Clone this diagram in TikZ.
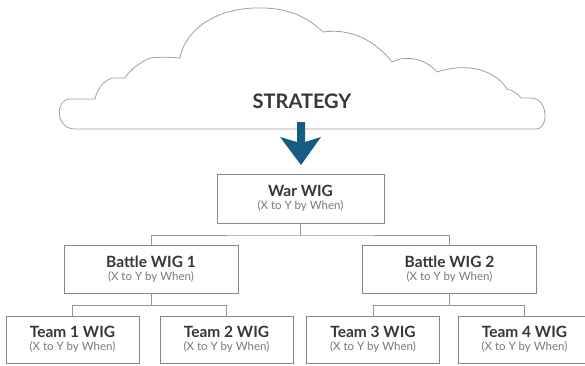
\documentclass[tikz,border=0pt]{standalone}
\usepackage{fontspec}
\setmainfont{Lato}
\definecolor{cloudline}{RGB}{160,160,160}
\definecolor{boxline}{RGB}{135,135,135}
\definecolor{linkline}{RGB}{150,150,150}
\definecolor{titletext}{RGB}{55,55,55}
\definecolor{subtext}{RGB}{120,120,120}
\definecolor{arrowblue}{RGB}{22,92,128}
\newcommand{\wigtitle}[1]{{\fontsize{15.5}{16}\selectfont\bfseries\color{titletext}#1}}
\newcommand{\wigsub}[1]{{\fontsize{11.5}{12}\selectfont\color{subtext}#1}}
\tikzset{
  wigbox/.style={draw=boxline, line width=0.9pt, fill=white, align=center,
    inner sep=0pt, minimum height=48pt},
  link/.style={draw=linkline, line width=0.9pt},
}
\begin{document}
\begin{tikzpicture}[x=1pt, y=-1pt]
\useasboundingbox (0,0) rectangle (585,365);
\clip (0,0) rectangle (585,365);

% cloud outline
\draw[cloudline, line width=0.8pt, fill=white]
  (75,129) -- (537,129)
  .. controls (548,129) and (549,98) .. (531,98)
  -- (521,98)
  .. controls (517,93) and (512,90) .. (507,89)
  .. controls (495,70) and (468,62) .. (437,72)
  .. controls (425,58) and (405,55) .. (392,62)
  .. controls (375,40) and (350,28) .. (323,32)
  .. controls (305,15) and (285,7) .. (255,8)
  .. controls (215,9) and (185,30) .. (180,58)
  .. controls (170,57) and (158,57) .. (150,58)
  .. controls (140,62) and (130,70) .. (125,78)
  -- (113,78)
  .. controls (103,80) and (97,90) .. (95,99)
  -- (70,99)
  .. controls (55,99) and (55,129) .. (75,129) -- cycle;

\node[font=\fontsize{20}{22}\selectfont\bfseries, text=titletext] (strategy) at (302,101) {STRATEGY};

% downward arrow from the strategy cloud
\fill[arrowblue] (297,122) -- (305,122) -- (305,142) -- (321,137) -- (301,165)
  -- (280,137) -- (297,142) -- cycle;

% boxes
\node[wigbox, minimum width=167pt, minimum height=49pt] (war) at (300.5,198.5)
  {\wigtitle{War WIG}\\[0.5pt]\wigsub{(X to Y by When)}};
\node[wigbox, minimum width=174pt] (b1) at (151,269)
  {\wigtitle{Battle WIG 1}\\[0.5pt]\wigsub{(X to Y by When)}};
\node[wigbox, minimum width=174pt] (b2) at (449.5,269)
  {\wigtitle{Battle WIG 2}\\[0.5pt]\wigsub{(X to Y by When)}};
\node[wigbox, minimum width=133pt, minimum height=47pt] (t1) at (72.5,339.5)
  {\wigtitle{Team 1 WIG}\\[0.5pt]\wigsub{(X to Y by When)}};
\node[wigbox, minimum width=133pt, minimum height=47pt] (t2) at (226.5,339.5)
  {\wigtitle{Team 2 WIG}\\[0.5pt]\wigsub{(X to Y by When)}};
\node[wigbox, minimum width=133pt, minimum height=47pt] (t3) at (373,339.5)
  {\wigtitle{Team 3 WIG}\\[0.5pt]\wigsub{(X to Y by When)}};
\node[wigbox, minimum width=133pt, minimum height=47pt] (t4) at (524.5,339.5)
  {\wigtitle{Team 4 WIG}\\[0.5pt]\wigsub{(X to Y by When)}};

% connectors
\coordinate (j0) at (300.5,235);
\coordinate (j1) at (151,305);
\coordinate (j2) at (449.5,305);
\draw[link] (war.south) -- (j0);
\draw[link] (b1.north) |- (j0) -| (b2.north);
\draw[link] (b1.south) -- (j1);
\draw[link] (t1.north) |- (j1) -| (t2.north);
\draw[link] (b2.south) -- (j2);
\draw[link] (t3.north) |- (j2) -| (t4.north);
\end{tikzpicture}
\end{document}
